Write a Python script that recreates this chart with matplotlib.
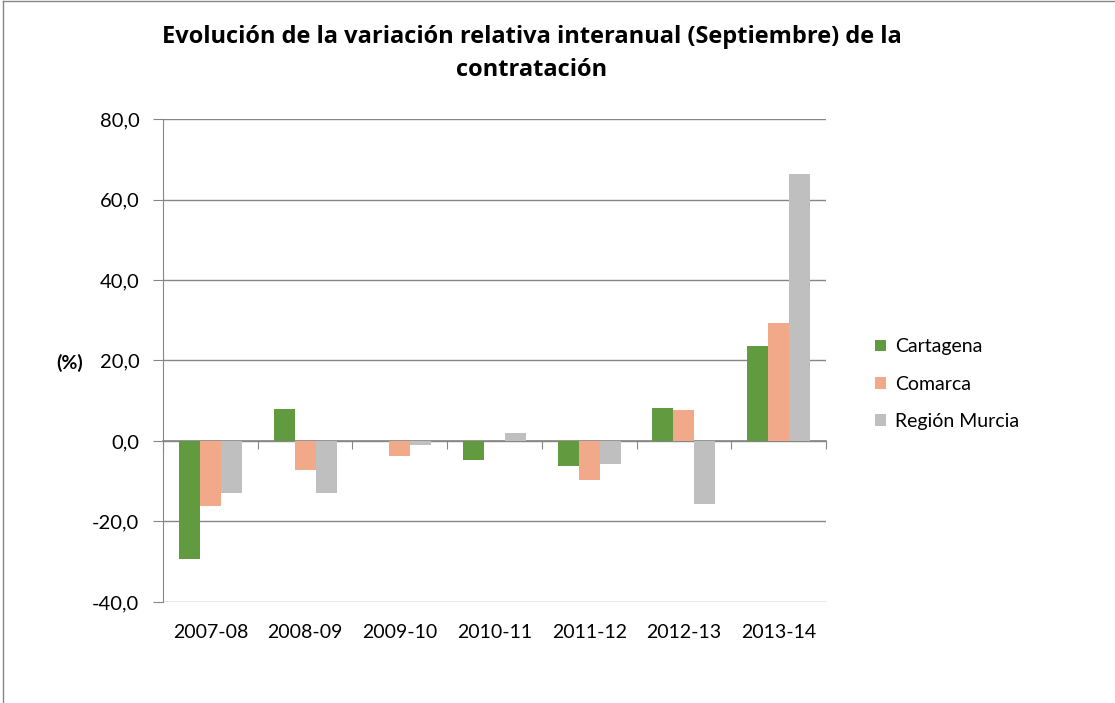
import numpy as np
import matplotlib.pyplot as plt

# Data
periods = ['2007-08', '2008-09', '2009-10', '2010-11', '2011-12', '2012-13', '2013-14']
cartagena = [-29.3, 8.0, 0.0, -4.6, -6.1, 8.3, 23.6]
comarca = [-16.2, -7.3, -3.8, 0.0, -9.8, 7.8, 29.3]
region_murcia = [-13.0, -12.9, -1.1, 2.0, -5.7, -15.6, 66.3]

series_names = ['Cartagena', 'Comarca', 'Región Murcia']
colors = ['#629B3F', '#F1A98A', '#BFBFBF']
yticks = [-40, -20, 0, 20, 40, 60, 80]

plt.rcParams['font.family'] = ['Lato', 'DejaVu Sans']

fig = plt.figure(figsize=(11.15, 7.03), dpi=100)
ax = fig.add_axes([0.1462, 0.1437, 0.5946, 0.687])

x = np.arange(len(periods))
w = 1 / 4.5  # Excel gap width 150%
for i, (vals, name, c) in enumerate(zip([cartagena, comarca, region_murcia], series_names, colors)):
    ax.bar(x + (i - 1) * w, vals, width=w, color=c, label=name, zorder=3)

ax.set_xlim(-0.5, len(periods) - 0.5)
ax.set_ylim(-40, 80)
ax.set_yticks(yticks)
ax.set_yticklabels([f'{v:.1f}'.replace('.', ',') for v in yticks], fontsize=14.5)
ax.set_xticks(x)
ax.set_xticklabels(periods, fontsize=14)
ax.tick_params(axis='x', length=0, pad=16)
ax.tick_params(axis='y', length=7, color='#868686', pad=10)
ax.grid(axis='y', color='#868686', linewidth=1, zorder=0)

for s in ['top', 'right', 'bottom']:
    ax.spines[s].set_visible(False)
ax.spines['left'].set_color('#868686')

# category axis drawn at zero with boundary ticks
zero_frac = (0 - (-40)) / 120
sec = ax.secondary_xaxis(zero_frac)
sec.set_xticks(np.arange(len(periods) + 1) - 0.5)
sec.set_xticklabels([])
sec.tick_params(direction='out', length=6, color='#868686')
sec.spines['bottom'].set_color('#868686')
sec.spines['bottom'].set_linewidth(1.2)

ax.legend(loc='center left', bbox_to_anchor=(1.062, 0.451), frameon=False, fontsize=14,
          handlelength=0.55, handleheight=0.55, handletextpad=0.5, labelspacing=1.05,
          borderaxespad=0)

fig.text(0.477, 0.947, 'Evolución de la variación relativa interanual (Septiembre) de la',
         ha='center', va='center', fontsize=17, fontweight='bold', family='Open Sans')
fig.text(0.477, 0.900, 'contratación', ha='center', va='center', fontsize=17,
         fontweight='bold', family='Open Sans')
fig.text(0.062, 0.484, '(%)', ha='center', va='center', fontsize=14, fontweight='bold')

# chart frame (left and top edges)
fig.add_artist(plt.Line2D([0.003, 0.003], [0, 0.998], color='#868686', linewidth=1))
fig.add_artist(plt.Line2D([0.003, 1], [0.998, 0.998], color='#868686', linewidth=1))

fig.savefig('out.png', dpi=100)
